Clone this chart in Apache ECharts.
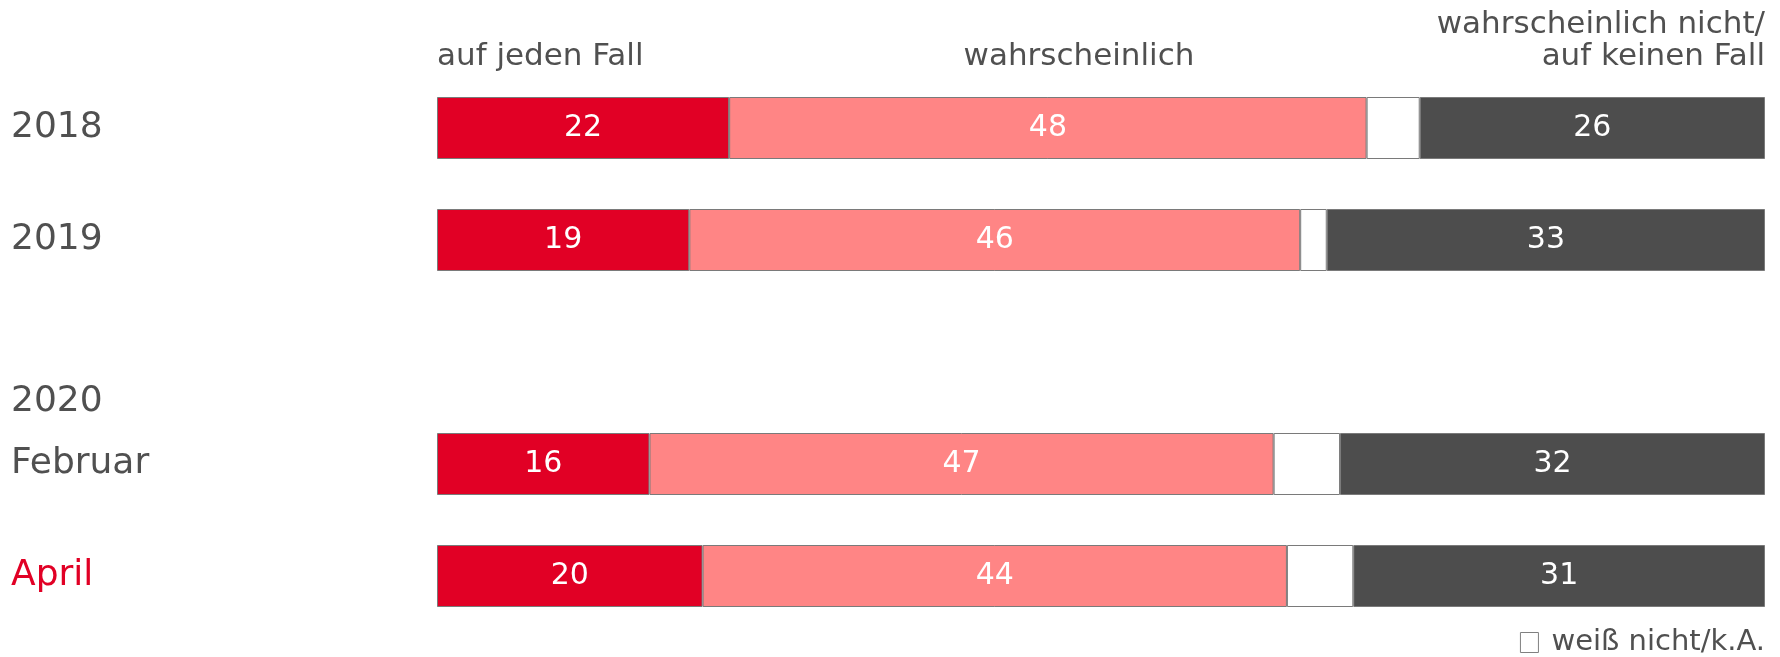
<!DOCTYPE html>
<html>
<head>
    <meta charset="utf-8">
    <title>Umfrage</title>
    <script src="https://cdn.jsdelivr.net/npm/echarts@6/dist/echarts.min.js"></script>
    <style>
        html, body { margin: 0; padding: 0; background: #fff; }
        #main { width: 1780px; height: 657px; }
    </style>
</head>
<body>
    <div id="main"></div>
    <script type="text/javascript">
        // Daten
        var categories = ['2018', '2019', '2020', 'Februar', 'April'];
        var aufJedenFall = [22, 19, '-', 16, 20];
        var wahrscheinlich = [48, 46, '-', 47, 44];
        var weissNicht = [4, 2, '-', 5, 5];
        var eherNicht = [26, 33, '-', 32, 31];

        var font = 'DejaVu Sans, Verdana, sans-serif';
        var grey = '#505050';
        var border = '#7a7a7a';

        var myChart = echarts.init(document.getElementById('main'));

        function bar(name, data, color, showLabel) {
            return {
                name: name,
                type: 'bar',
                stack: 'gesamt',
                barWidth: 62,
                data: data,
                itemStyle: { color: color, borderColor: border, borderWidth: 1 },
                label: {
                    show: showLabel,
                    position: 'inside',
                    color: '#fff',
                    fontSize: 30,
                    fontFamily: font
                },
                emphasis: { disabled: true }
            };
        }

        function kopf(text, x, y, align) {
            return {
                type: 'text', x: x, y: y,
                style: { text: text, fill: grey, fontSize: 31, fontFamily: font,
                         textAlign: align, textVerticalAlign: 'middle' }
            };
        }

        myChart.setOption({
            animation: false,
            grid: { left: 437, right: 15, top: 72, bottom: 25, outerBoundsMode: 'none', containLabel: false },
            xAxis: { type: 'value', min: 0, max: 100, show: false },
            yAxis: {
                type: 'category',
                inverse: true,
                data: categories.map(function (c) {
                    if (c === '2020') {
                        return { value: c, textStyle: { align: 'left', verticalAlign: 'top', padding: [32, 0, 0, 0] } };
                    }
                    if (c === 'April') {
                        return { value: c, textStyle: { align: 'left', color: '#e10025' } };
                    }
                    return c;
                }),
                axisLine: { show: false },
                axisTick: { show: false },
                splitLine: { show: false },
                axisLabel: {
                    margin: 426,
                    align: 'left',
                    fontSize: 36,
                    color: grey,
                    fontFamily: font
                }
            },
            legend: {
                data: ['weiß nicht/k.A.'],
                right: 15,
                bottom: 0,
                padding: 0,
                icon: 'rect',
                itemWidth: 18,
                itemHeight: 20,
                itemStyle: { color: '#fff', borderColor: '#808080', borderWidth: 1 },
                textStyle: { fontSize: 29, color: grey, fontFamily: font, padding: [0, 0, 0, 8] }
            },
            graphic: [
                kopf('auf jeden Fall', 437, 57, 'left'),
                kopf('wahrscheinlich', 1079, 57, 'center'),
                kopf('wahrscheinlich nicht/', 1765, 25, 'right'),
                kopf('auf keinen Fall', 1765, 57, 'right')
            ],
            series: [
                bar('auf jeden Fall', aufJedenFall, '#e10025', true),
                bar('wahrscheinlich', wahrscheinlich, '#ff8585', true),
                bar('weiß nicht/k.A.', weissNicht, '#ffffff', false),
                bar('wahrscheinlich nicht/auf keinen Fall', eherNicht, '#4d4d4d', true)
            ]
        });
    </script>
</body>
</html>
